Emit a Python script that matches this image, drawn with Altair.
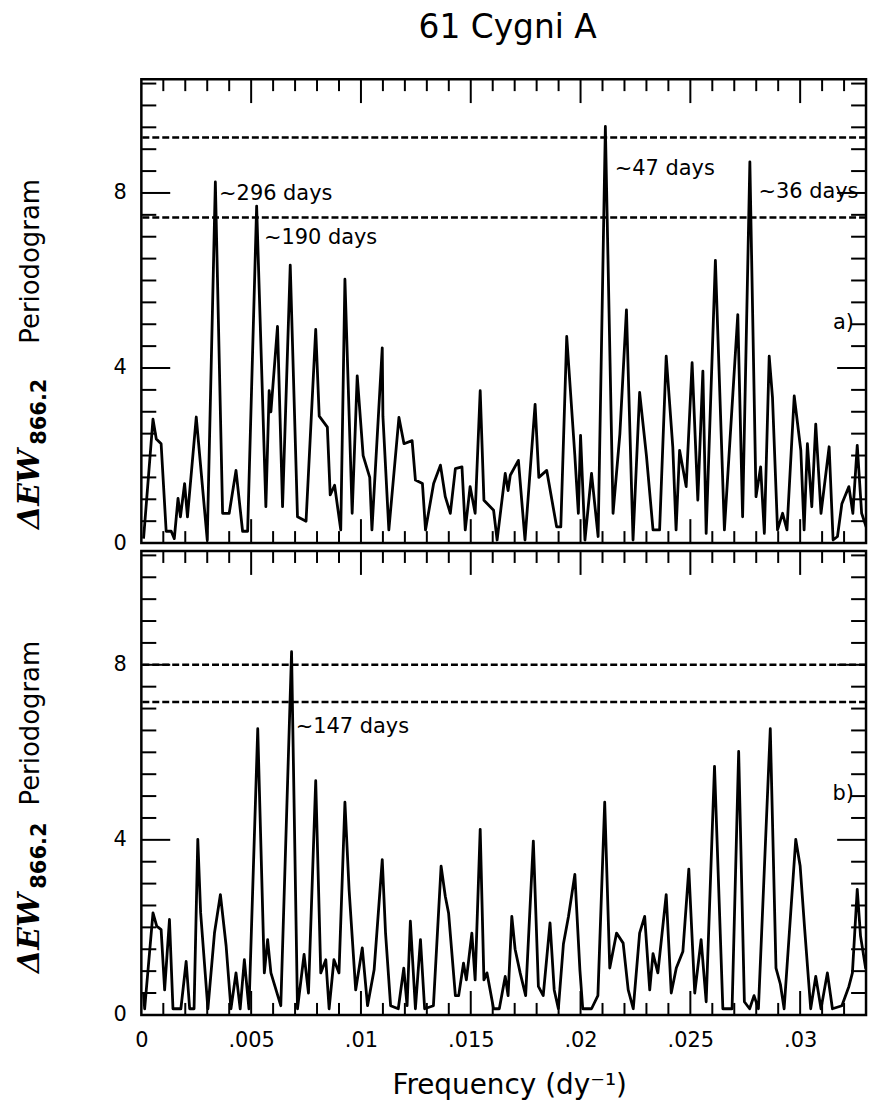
import altair as alt
import pandas as pd

# ---------------- data ----------------
top_freq = [0.0001, 0.00053, 0.00068, 0.0009, 0.00113, 0.00136, 0.0015, 0.00167, 0.00178, 0.00197,
            0.0021, 0.0025, 0.003, 0.00337, 0.0037, 0.0040, 0.00431, 0.00461, 0.00484, 0.00525,
            0.00567, 0.00582, 0.0059, 0.0062, 0.00643, 0.00678, 0.00711, 0.0075, 0.00794, 0.0081,
            0.00847, 0.0086, 0.0088, 0.00908, 0.00927, 0.0096, 0.00983, 0.0101, 0.0104, 0.0105,
            0.01097, 0.0110, 0.01127, 0.01173, 0.01196, 0.01233, 0.01248, 0.0128, 0.01294, 0.01331,
            0.01362, 0.01384, 0.01407, 0.0143, 0.0146, 0.01475, 0.01497, 0.0152, 0.01543, 0.0156,
            0.01604, 0.0162, 0.01657, 0.0167, 0.0168, 0.01717, 0.01747, 0.01793, 0.0181, 0.01846,
            0.01891, 0.0191, 0.01937, 0.01974, 0.0199, 0.0200, 0.0202, 0.0205, 0.0208, 0.02113,
            0.02148, 0.02179, 0.02209, 0.02239, 0.02269, 0.0230, 0.0233, 0.0236, 0.0239, 0.0242,
            0.02435, 0.02451, 0.02481, 0.02508, 0.02534, 0.02557, 0.02572, 0.02614, 0.02655, 0.02716,
            0.02738, 0.02771, 0.02799, 0.0282, 0.02837, 0.02859, 0.02874, 0.02897, 0.0292, 0.0294,
            0.02973, 0.03003, 0.03018, 0.03033, 0.03053, 0.03071, 0.03095, 0.03132, 0.0315, 0.0317,
            0.0319, 0.03222, 0.0324, 0.0326, 0.0328, 0.03305]
top_power = [0.1, 2.83, 2.38, 2.27, 0.27, 0.27, 0.1, 1.02, 0.6, 1.36,
             0.6, 2.88, 0.07, 8.25, 0.68, 0.68, 1.66, 0.27, 0.27, 7.7,
             0.83, 3.48, 3.0, 4.95, 0.83, 6.35, 0.6, 0.5, 4.88, 2.9,
             2.65, 1.1, 1.32, 0.3, 6.03, 0.68, 3.82, 2.0, 1.5, 0.3,
             4.46, 2.9, 0.3, 2.87, 2.27, 2.34, 1.44, 1.36, 0.3, 1.36,
             1.78, 1.06, 0.68, 1.7, 1.74, 0.3, 1.29, 0.68, 3.48, 0.98,
             0.75, 0.07, 1.59, 1.2, 1.55, 1.89, 0.07, 3.17, 1.5, 1.66,
             0.37, 0.37, 4.72, 2.0, 0.68, 2.46, 0.07, 1.59, 0.15, 9.52,
             0.68, 2.49, 5.33, 0.07, 3.44, 2.0, 0.3, 0.3, 4.27, 2.2,
             0.3, 2.12, 1.29, 4.12, 0.98, 3.93, 0.22, 6.46, 0.3, 5.22,
             0.6, 8.71, 1.06, 1.74, 0.22, 4.27, 3.33, 0.3, 0.68, 0.3,
             3.36, 2.12, 0.3, 2.27, 0.83, 2.72, 0.68, 2.2, 0.07, 0.15,
             0.9, 1.29, 0.68, 2.23, 0.68, 0.3]

bot_freq = [0.0001, 0.00015, 0.00053, 0.0007, 0.0009, 0.00106, 0.00128, 0.00144, 0.0018, 0.00204,
            0.0022, 0.0024, 0.00257, 0.0027, 0.00303, 0.00333, 0.0036, 0.00386, 0.00408, 0.00431,
            0.0045, 0.00469, 0.0049, 0.0053, 0.0056, 0.00575, 0.0059, 0.00635, 0.00684, 0.00711,
            0.00741, 0.00761, 0.00794, 0.00817, 0.0084, 0.00855, 0.00877, 0.009, 0.00927, 0.00946,
            0.00976, 0.01006, 0.0103, 0.0106, 0.01097, 0.01112, 0.01135, 0.0117, 0.01195, 0.0121,
            0.01225, 0.01248, 0.01271, 0.0129, 0.0133, 0.01365, 0.01384, 0.01399, 0.0143, 0.01445,
            0.01467, 0.0148, 0.01505, 0.0152, 0.01543, 0.0156, 0.01574, 0.01604, 0.0163, 0.01657,
            0.0167, 0.01687, 0.01702, 0.01725, 0.0175, 0.01785, 0.01808, 0.0183, 0.01861, 0.0188,
            0.01899, 0.01922, 0.01945, 0.01974, 0.01997, 0.0201, 0.0205, 0.02079, 0.0211, 0.02133,
            0.02164, 0.02194, 0.02217, 0.0224, 0.02269, 0.02292, 0.02315, 0.0233, 0.02352, 0.0239,
            0.02413, 0.02436, 0.02466, 0.02493, 0.0252, 0.02549, 0.02572, 0.0261, 0.02648, 0.0269,
            0.0272, 0.02746, 0.0277, 0.0279, 0.0281, 0.02864, 0.0289, 0.0291, 0.02927, 0.0298,
            0.0300, 0.0302, 0.03048, 0.03071, 0.03095, 0.03124, 0.03147, 0.0319, 0.03222, 0.03238,
            0.0326, 0.03275, 0.03298, 0.0331]
bot_power = [0.5, 0.14, 2.33, 2.03, 1.95, 0.57, 2.18, 0.14, 0.14, 1.22,
             0.14, 0.14, 4.01, 2.33, 0.14, 1.87, 2.75, 1.58, 0.14, 0.96,
             0.14, 1.26, 0.14, 6.54, 0.96, 1.72, 0.96, 0.21, 8.3, 0.14,
             1.38, 0.5, 5.35, 0.96, 1.26, 0.14, 1.26, 0.96, 4.86, 2.86,
             0.57, 1.53, 0.21, 1.03, 3.55, 1.87, 0.21, 0.14, 1.07, 0.21,
             2.14, 0.14, 1.72, 0.14, 0.21, 3.4, 2.71, 2.33, 0.44, 0.44,
             1.18, 0.8, 1.87, 0.8, 4.24, 0.8, 0.96, 0.14, 0.14, 0.88,
             0.44, 2.25, 1.5, 0.96, 0.44, 3.97, 0.65, 0.44, 2.1, 0.57,
             0.14, 1.62, 2.25, 3.21, 1.03, 0.14, 0.14, 0.44, 4.86, 1.07,
             1.87, 1.64, 0.57, 0.14, 1.87, 2.25, 0.57, 1.4, 0.96, 2.75,
             0.5, 1.07, 1.45, 3.33, 0.5, 1.72, 0.3, 5.68, 0.14, 0.14,
             6.02, 0.3, 0.14, 0.44, 0.14, 6.54, 1.07, 0.7, 0.14, 4.01,
             3.4, 2.0, 0.14, 0.88, 0.14, 0.96, 0.14, 0.21, 0.65, 0.96,
             2.87, 1.8, 1.07, 1.2]

top_levels = [9.27, 7.44]
bot_levels = [8.0, 7.15]

top_ann_text = ["~296 days", "~190 days", "~47 days", "~36 days"]
top_ann_x = [0.00354, 0.00558, 0.02156, 0.0281]
top_ann_y = [7.98, 6.98, 8.55, 8.03]
bot_ann_text = ["~147 days"]
bot_ann_x = [0.00703]
bot_ann_y = [6.58]

panel_letters = ["a)", "b)"]
letter_x = [0.03245, 0.03245]
letter_y = [5.03, 5.05]

x_label_values = [0, 0.005, 0.01, 0.015, 0.02, 0.025, 0.03]
y_label_values = [0, 4, 8]
x_major_ticks = [0.005, 0.01, 0.015, 0.02, 0.025, 0.03]
x_minor_ticks = [i / 1000 for i in range(1, 34) if i % 5 != 0]
y_major_ticks = [4, 8]
y_minor_ticks = [i / 2 for i in range(1, 22) if i not in (8, 16)]

chart_title = "61 Cygni A"
x_title = "Frequency  (dy\u207b\u00b9)"

# ---------------- layout ----------------
W, H = 728, 466
XDOM = [0, 0.033]
YDOM = [0, 10.6]
FONT = "DejaVu Sans"


def xs():
    return alt.Scale(domain=XDOM, nice=False, zero=False)


def ys():
    return alt.Scale(domain=YDOM, nice=False, zero=False)


def make_xaxis(bottom):
    if not bottom:
        return None
    return alt.Axis(values=x_label_values, ticks=False, domain=False, grid=False,
                    labelFontSize=21, labelFont=FONT, labelColor="black",
                    labelPadding=15, title=None, labelFlush=False, labelOverlap=False,
                    labelExpr="datum.value == 0 ? '0' : replace(format(datum.value, '.3~f'), '0.', '.')")


def make_yaxis():
    return alt.Axis(values=y_label_values, ticks=False, domain=False, grid=False,
                    labelFontSize=21, labelFont=FONT, labelColor="black",
                    labelPadding=15, title=None, labelFlush=False, labelOverlap=False)


def tick_layers(xa, ya):
    layers = []
    for vals, L in [(x_minor_ticks, 12), (x_major_ticks, 24)]:
        df = pd.DataFrame({"v": vals})
        base = alt.Chart(df).mark_rule(color="black", strokeWidth=2)
        layers.append(base.encode(x=alt.X("v:Q", scale=xs(), axis=xa), y=alt.value(0), y2=alt.value(L)))
        layers.append(base.encode(x=alt.X("v:Q", scale=xs(), axis=xa), y=alt.value(H), y2=alt.value(H - L)))
    for vals, L in [(y_minor_ticks, 15), (y_major_ticks, 29)]:
        df = pd.DataFrame({"v": vals})
        base = alt.Chart(df).mark_rule(color="black", strokeWidth=2)
        layers.append(base.encode(y=alt.Y("v:Q", scale=ys(), axis=ya), x=alt.value(0), x2=alt.value(L)))
        layers.append(base.encode(y=alt.Y("v:Q", scale=ys(), axis=ya), x=alt.value(W), x2=alt.value(W - L)))
    return layers


def ylabel_layers(c_delta, c_sub, c_period):
    a = alt.Chart(pd.DataFrame({"t": ["\u0394EW"]})).mark_text(
        angle=270, align="center", baseline="alphabetic", font="DejaVu Serif",
        fontSize=30, fontWeight="bold", fontStyle="italic", color="black"
    ).encode(text="t:N", x=alt.value(-103), y=alt.value(c_delta))
    b = alt.Chart(pd.DataFrame({"t": ["866.2"]})).mark_text(
        angle=270, align="center", baseline="alphabetic", font=FONT,
        fontSize=21, fontWeight="bold", color="black"
    ).encode(text="t:N", x=alt.value(-96), y=alt.value(c_sub))
    c = alt.Chart(pd.DataFrame({"t": ["Periodogram"]})).mark_text(
        angle=270, align="center", baseline="alphabetic", font=FONT,
        fontSize=26, color="black"
    ).encode(text="t:N", x=alt.value(-103), y=alt.value(c_period))
    return [a, b, c]


def panel(freq, power, levels, ann_text, ann_x, ann_y, letter, lx, ly, bottom, ylab):
    xa = make_xaxis(bottom)
    ya = make_yaxis()
    curve = alt.Chart(pd.DataFrame({"f": freq, "p": power})).mark_line(
        color="black", strokeWidth=2.8, clip=True, strokeJoin="round"
    ).encode(
        x=alt.X("f:Q", scale=xs(), axis=xa),
        y=alt.Y("p:Q", scale=ys(), axis=ya),
    )
    dashes = alt.Chart(pd.DataFrame({"lvl": levels})).mark_rule(
        color="black", strokeWidth=2.5, strokeDash=[7, 3]
    ).encode(y=alt.Y("lvl:Q", scale=ys(), axis=ya))
    ann = alt.Chart(pd.DataFrame({"t": ann_text, "x": ann_x, "y": ann_y})).mark_text(
        align="left", baseline="middle", font=FONT, fontSize=21, color="black"
    ).encode(x=alt.X("x:Q", scale=xs(), axis=xa), y=alt.Y("y:Q", scale=ys(), axis=ya), text="t:N")
    let = alt.Chart(pd.DataFrame({"t": [letter], "x": [lx], "y": [ly]})).mark_text(
        align="right", baseline="middle", font=FONT, fontSize=21, color="black"
    ).encode(x=alt.X("x:Q", scale=xs(), axis=xa), y=alt.Y("y:Q", scale=ys(), axis=ya), text="t:N")
    layers = [curve, dashes] + tick_layers(xa, ya) + [ann, let] + ylabel_layers(*ylab)
    if not bottom:
        ttl = alt.Chart(pd.DataFrame({"t": [chart_title]})).mark_text(
            align="center", baseline="alphabetic", font=FONT, fontSize=33, color="black"
        ).encode(text="t:N", x=alt.value(368), y=alt.value(-41))
        bound = alt.Chart(pd.DataFrame({"k": [0]})).mark_rule(strokeOpacity=0, stroke="white").encode(
            x=alt.value(-140), x2=alt.value(W + 5), y=alt.value(-75))
        layers += [ttl, bound]
    else:
        xt = alt.Chart(pd.DataFrame({"t": [x_title]})).mark_text(
            align="center", baseline="alphabetic", font=FONT, fontSize=28, color="black"
        ).encode(text="t:N", x=alt.value(370), y=alt.value(545))
        bound = alt.Chart(pd.DataFrame({"k": [0]})).mark_rule(strokeOpacity=0, stroke="white").encode(
            x=alt.value(-140), x2=alt.value(W + 5), y=alt.value(H + 90))
        layers += [xt, bound]
    return alt.layer(*layers).properties(width=W, height=H)


top = panel(top_freq, top_power, top_levels, top_ann_text, top_ann_x, top_ann_y,
            panel_letters[0], letter_x[0], letter_y[0], False, (412, 334, 183))
bot = panel(bot_freq, bot_power, bot_levels, bot_ann_text, bot_ann_x, bot_ann_y,
            panel_letters[1], letter_x[1], letter_y[1], True, (384, 306, 173))

chart = alt.vconcat(top, bot, spacing=8, bounds="flush").properties(
    padding=0, background="white"
).configure_view(stroke="black", strokeWidth=2.5)

chart.save("out.html", embed_options={"renderer": "svg", "actions": False})
